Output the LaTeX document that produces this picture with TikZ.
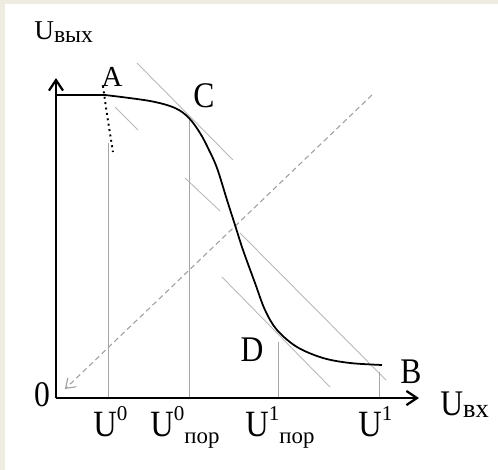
\documentclass[tikz,border=0pt]{standalone}
\usepackage{fontspec}
\setmainfont{Liberation Serif}
\usepackage{xcolor}
\usepackage{graphicx}
\usetikzlibrary{arrows.meta}
\definecolor{paper}{RGB}{238,235,224}
\newcommand{\vst}[1]{\scalebox{1}[1.14]{#1}}
\newcommand{\supn}[1]{\raisebox{9.5pt}{\fontsize{12}{13}\selectfont #1}}
\newcommand{\porsub}{\raisebox{-3.6pt}{\fontsize{13}{14}\selectfont пор}}

\begin{document}
\begin{tikzpicture}[x=0.02cm, y=-0.02cm, >={Straight Barb[length=6pt,width=8pt]},
		axis/.style={line width=1.3pt, ->},
		curve/.style={line width=1pt},
		guide/.style={gray!55, line width=0.5pt},
		drop/.style={gray!70, line width=0.5pt},
		lbl/.style={inner sep=0pt, font=\fontsize{18}{20}\selectfont},
		ulbl/.style={inner sep=0pt, anchor=base west, font=\fontsize{18.5}{20}\selectfont}]

			% paper
			\fill[paper] (0,0) rectangle (498,470);
			\fill[white] (5,4) rectangle (498,470);
			\useasboundingbox (0,0) rectangle (498,470);

			\coordinate (O) at (56,398);
			\coordinate (ytip) at (56,78);
			\coordinate (xtip) at (419,398);
			\coordinate (top) at (56,95);
			\coordinate (A) at (105,95);
			\coordinate (C) at (189,118);
			\coordinate (D) at (278,331);
			\coordinate (B) at (382,365);

			% guide lines
			\draw[gray!75, line width=0.6pt, dash pattern=on 3pt off 2pt, ->, >={Straight Barb[length=5pt,width=7pt]}] (372,95) -- (65,389);
			\draw[guide] (137,63) -- (233,160);
			\draw[guide] (222,277) -- (330,387);
			\draw[guide] (115,107) -- (138,130);
			\draw[guide] (185,178) -- (220,211);
			\draw[guide] (240,233) -- (386,380);

			% drop lines
			\draw[drop] (108,143) -- (108,398);
			\draw[drop] (C) -- (C |- O);
			\draw[drop] (278,342) -- (278,398);
			\draw[drop] (379,372) -- (379,398);
			\draw[dotted, line width=1.1pt] (103,86) .. controls (107,115) .. (113,152);

			% axes
			\draw[axis] (O) -- (ytip);
			\draw[axis] (O) -- (xtip);

			% transfer curve
			\draw[curve] (top) -- (A) -- plot[smooth, tension=0.55] coordinates {(105,95) (150,101) (175,108) (189,118) (200,133) (208,148) (217,168) (227,200) (235,225) (243,250) (255,283) (265,310) (277,330) (297,347) (323,358) (350,363) (382,365)};

			\node[lbl, font=\fontsize{16.5}{18}\selectfont] (labA) at (112,77) {A};
			\node[lbl] (labC) at (204,96) {\vst{C}};
			\node[lbl] (labD) at (252,350) {\vst{D}};
			\node[lbl] (labB) at (411,372) {\vst{B}};
			\node[lbl] (zero) at (42,395) {\vst{0}};

			\node[ulbl, font=\fontsize{15.5}{17}\selectfont] (uout) at (34,39) {U\raisebox{-2pt}{\fontsize{13.5}{15}\selectfont вых}};
			\node[ulbl, font=\fontsize{18}{20}\selectfont] (uin) at (440,415) {\vst{U}\raisebox{-1.5pt}{\fontsize{15}{17}\selectfont вх}};

			\node[ulbl] (u0) at (93,437) {\vst{U}\supn{0}};
			\node[ulbl] (u0p) at (150,437) {\vst{U}\supn{0}\porsub};
			\node[ulbl] (u1p) at (245,437) {\vst{U}\supn{1}\porsub};
			\node[ulbl] (u1) at (358,437) {\vst{U}\supn{1}};

		\end{tikzpicture}
\end{document}
